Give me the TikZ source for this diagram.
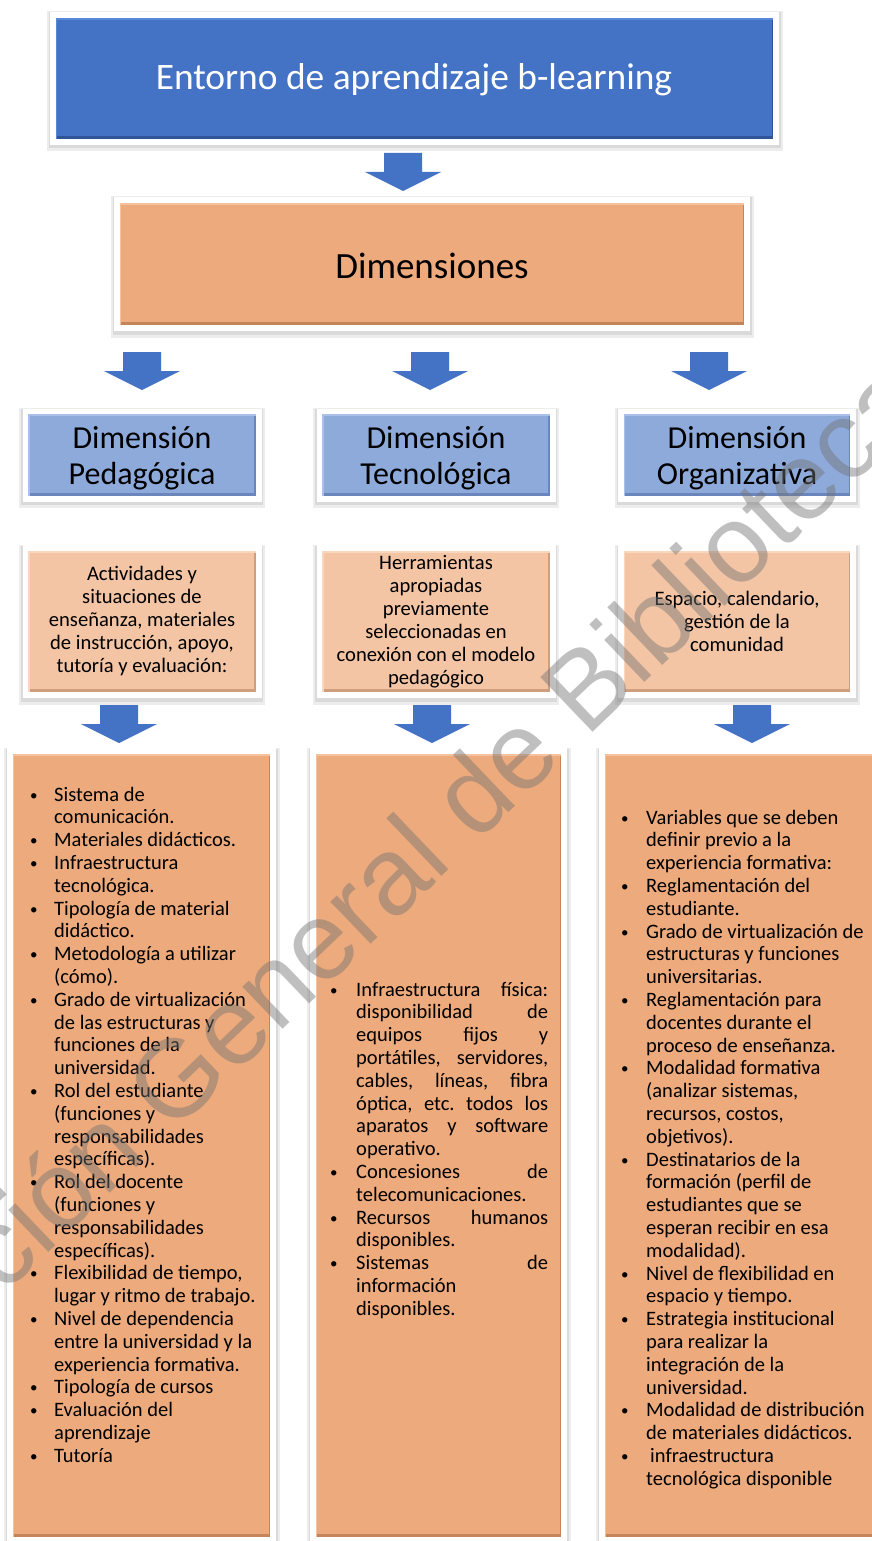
\documentclass[tikz,border=0pt]{standalone}
\usepackage{fontspec}
\setmainfont{Carlito}
\newfontfamily\wmfont{Liberation Sans}
\usetikzlibrary{calc}
\definecolor{topblue}{HTML}{4472C4}
\definecolor{topbluedark}{HTML}{2F5597}
\definecolor{topbluelight}{HTML}{5A88D8}
\definecolor{arrowblue}{HTML}{4472C4}
\definecolor{orng}{HTML}{EDAA7C}
\definecolor{orngdark}{HTML}{C4855A}
\definecolor{ornglight}{HTML}{F6C29E}
\definecolor{lblue}{HTML}{8EAADB}
\definecolor{lbluedark}{HTML}{6A86BC}
\definecolor{lbluelight}{HTML}{A8C0EA}
\definecolor{peach}{HTML}{F3C5A5}
\definecolor{peachdark}{HTML}{CF9E7E}
\definecolor{peachlight}{HTML}{F9D6BE}
\newcommand{\listfont}{\fontsize{20.5}{22.8}\selectfont}
\newcommand{\descfont}{\fontsize{20.6}{23}\selectfont}
\newcommand{\jl}[1]{\makebox[192pt][s]{#1}}
\newcommand{\bul}{{\fontsize{15}{15}\selectfont\raisebox{1pt}{\textbullet}}}
\frenchspacing
\tikzset{
  panel/.style={rectangle, inner sep=0pt, draw=none,
    preaction={draw=black, draw opacity=0.07, line width=19pt, transform canvas={yshift=-3pt}},
    preaction={draw=black, draw opacity=0.08, line width=15pt, transform canvas={yshift=-2pt}},
    preaction={draw=white, line width=12pt}},
  downarrow/.pic={\fill[arrowblue] (-19,0) -- (19,0) -- (19,19) -- (38,19) -- (0,38) -- (-38,19) -- (-19,19) -- cycle;},
  dimtext/.style={align=center, inner sep=0pt, font=\fontsize{32}{36}\selectfont}
}
\newcommand{\bevel}[3]{%
  \draw[#2, line width=3pt] ([yshift=1.5pt]#1.south west) -- ([yshift=1.5pt]#1.south east);
  \draw[#2, line width=1.5pt] ([xshift=-0.75pt]#1.north east) -- ([xshift=-0.75pt]#1.south east);
  \draw[#3, line width=2pt] ([yshift=-1pt]#1.north west) -- ([yshift=-1pt]#1.north east);
  \draw[#3, line width=1.5pt] ([xshift=0.75pt]#1.north west) -- ([xshift=0.75pt]#1.south west);
}
\begin{document}
\begin{tikzpicture}[x={(1pt,0)}, y={(0,-1pt)}]
\useasboundingbox (0,0) rectangle (872,1541);
\fill[white] (0,0) rectangle (872,1541);

% top box
\node[panel, fill=topblue, minimum width=717, minimum height=121] (top) at (414.5,78.5) {};
\bevel{top}{topbluedark}{topbluelight}
\node[text=white, inner sep=0pt, font=\fontsize{37.4}{44}\selectfont] (toptxt) at (414,80) {Entorno de aprendizaje b-learning};

\pic at (403,153) {downarrow};

% dimensiones
\node[panel, fill=orng, minimum width=624, minimum height=122] (dims) at (432,264) {};
\bevel{dims}{orngdark}{ornglight}
\node[inner sep=0pt, font=\fontsize{37}{44}\selectfont] (dimstxt) at (432,266) {Dimensiones};

\pic at (142,352) {downarrow};
\pic at (430,352) {downarrow};
\pic at (709,352) {downarrow};

% dimension boxes
\node[panel, fill=lblue, minimum width=227, minimum height=81] (dp) at (142,455) {};
\node[panel, fill=lblue, minimum width=227, minimum height=81] (dt) at (436,455) {};
\node[panel, fill=lblue, minimum width=226, minimum height=81] (do) at (737,455) {};
\bevel{dp}{lbluedark}{lbluelight}
\bevel{dt}{lbluedark}{lbluelight}
\bevel{do}{lbluedark}{lbluelight}
\node[dimtext] (dptxt) at (142,458) {Dimensión\\Pedagógica};
\node[dimtext] (dttxt) at (436,458) {Dimensión\\Tecnológica};
\node[dimtext] (dotxt) at (737,458) {Dimensión\\Organizativa};

% description boxes
\node[panel, fill=peach, minimum width=227, minimum height=141, align=center,
  font=\descfont] (ep) at (142,621.5) {Actividades y\\situaciones de\\enseñanza, materiales\\de instrucción, apoyo,\\tutoría y evaluación:};
\node[panel, fill=peach, minimum width=227, minimum height=141, align=center,
  font=\descfont] (et) at (436,621.5) {Herramientas\\apropiadas\\previamente\\seleccionadas en\\conexión con el modelo\\pedagógico};
\node[panel, fill=peach, minimum width=226, minimum height=141, align=center,
  font=\descfont] (eo) at (737,621.5) {Espacio, calendario,\\gestión de la\\comunidad};
\bevel{ep}{peachdark}{peachlight}
\bevel{et}{peachdark}{peachlight}
\bevel{eo}{peachdark}{peachlight}

\pic at (119,705) {downarrow};
\pic at (432,705) {downarrow};
\pic at (752,705) {downarrow};

% bottom boxes
\node[panel, fill=orng, minimum width=257, minimum height=783] (bp) at (141.5,1145.5) {};
\node[panel, fill=orng, minimum width=245, minimum height=783] (bt) at (438.5,1145.5) {};
\node[panel, fill=orng, minimum width=275, minimum height=783] (bo) at (742.5,1145.5) {};
\bevel{bp}{orngdark}{ornglight}
\bevel{bt}{orngdark}{ornglight}
\bevel{bo}{orngdark}{ornglight}

\node[anchor=base west, inner sep=0pt, font=\listfont] (lp) at (30,801) {%
\begin{tabular}[t]{@{}p{24pt}@{}l@{}}
\bul & Sistema de\\
 & comunicación.\\
\bul & Materiales didácticos.\\
\bul & Infraestructura\\
 & tecnológica.\\
\bul & Tipología de material\\
 & didáctico.\\
\bul & Metodología a utilizar\\
 & (cómo).\\
\bul & Grado de virtualización\\
 & de las estructuras y\\
 & funciones de la\\
 & universidad.\\
\bul & Rol del estudiante\\
 & (funciones y\\
 & responsabilidades\\
 & específicas).\\
\bul & Rol del docente\\
 & (funciones y\\
 & responsabilidades\\
 & específicas).\\
\bul & Flexibilidad de tiempo,\\
 & lugar y ritmo de trabajo.\\
\bul & Nivel de dependencia\\
 & entre la universidad y la\\
 & experiencia formativa.\\
\bul & Tipología de cursos\\
\bul & Evaluación del\\
 & aprendizaje\\
\bul & Tutoría
\end{tabular}};

\node[anchor=base west, inner sep=0pt, font=\listfont] (lt) at (330,996) {%
\begin{tabular}[t]{@{}p{26pt}@{}l@{}}
\bul & \jl{Infraestructura física:}\\
 & \jl{disponibilidad de}\\
 & \jl{equipos fijos y}\\
 & \jl{portátiles, servidores,}\\
 & \jl{cables, líneas, fibra}\\
 & \jl{óptica, etc. todos los}\\
 & \jl{aparatos y software}\\
 & operativo.\\
\bul & \jl{Concesiones de}\\
 & telecomunicaciones.\\
\bul & \jl{Recursos humanos}\\
 & disponibles.\\
\bul & \jl{Sistemas de}\\
 & información\\
 & disponibles.
\end{tabular}};

\node[anchor=base west, inner sep=0pt, font=\listfont] (lo) at (621,824) {%
\begin{tabular}[t]{@{}p{25pt}@{}l@{}}
\bul & Variables que se deben\\
 & definir previo a la\\
 & experiencia formativa:\\
\bul & Reglamentación del\\
 & estudiante.\\
\bul & Grado de virtualización de\\
 & estructuras y funciones\\
 & universitarias.\\
\bul & Reglamentación para\\
 & docentes durante el\\
 & proceso de enseñanza.\\
\bul & Modalidad formativa\\
 & (analizar sistemas,\\
 & recursos, costos,\\
 & objetivos).\\
\bul & Destinatarios de la\\
 & formación (perfil de\\
 & estudiantes que se\\
 & esperan recibir en esa\\
 & modalidad).\\
\bul & Nivel de flexibilidad en\\
 & espacio y tiempo.\\
\bul & Estrategia institucional\\
 & para realizar la\\
 & integración de la\\
 & universidad.\\
\bul & Modalidad de distribución\\
 & de materiales didácticos.\\
\bul & \hspace{4pt}infraestructura\\
 & tecnológica disponible
\end{tabular}};

% watermark
\node[rotate=43.7, inner sep=0pt, text=black!55, text opacity=0.45,
  font=\wmfont\fontsize{110}{110}\selectfont] (wm) at (367,893) {Dirección General de Bibliotecas};
\end{tikzpicture}
\end{document}
